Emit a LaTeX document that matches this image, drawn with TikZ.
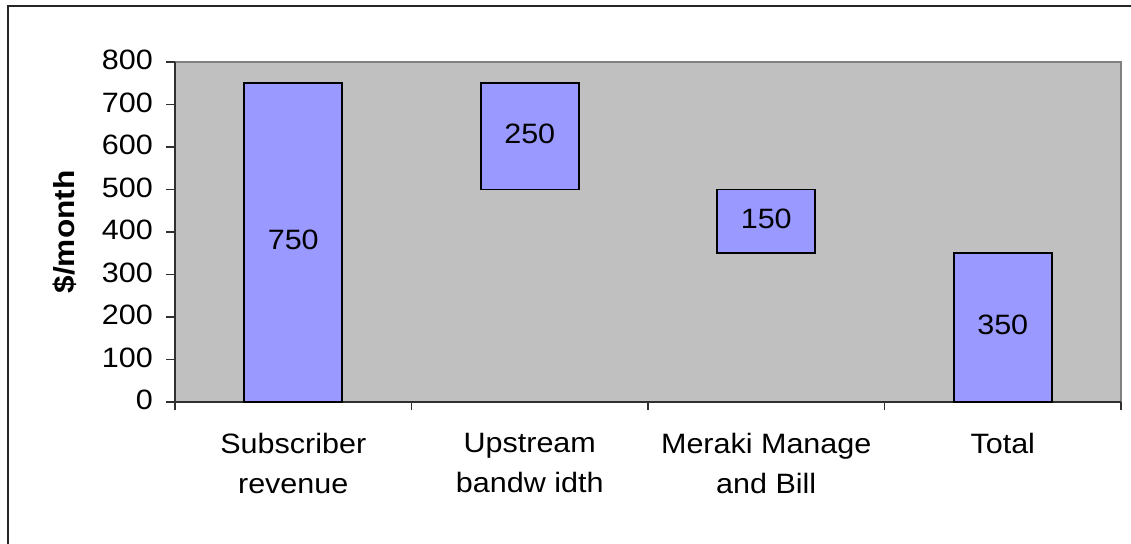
\documentclass[tikz,border=0pt]{standalone}
\usepackage{fontspec}
\setmainfont[FakeStretch=1.09]{Liberation Sans}
\definecolor{plotgray}{HTML}{C0C0C0}
\definecolor{bordergray}{HTML}{808080}
\definecolor{barblue}{HTML}{9999FF}
\definecolor{axisgray}{HTML}{303030}
\tikzset{
  bar/.style={draw=black, fill=barblue, line width=1.6pt},
  ticklabel/.style={font=\fontsize{28}{34}\selectfont, inner sep=0pt, anchor=east},
  catlabel/.style={font=\fontsize{28}{40.5}\selectfont, inner sep=0pt, anchor=north, align=center},
  vallabel/.style={font=\fontsize{28}{34}\selectfont, inner sep=0pt},
  axisline/.style={draw=axisgray, line width=1.1pt},
}
\begin{document}
\begin{tikzpicture}[x=1pt,y=1pt]
\fill[white] (0,0) rectangle (1131,543);
\useasboundingbox (0,0) rectangle (1131,543);
% outer frame (cut at right and bottom)
\draw[line width=1.5pt, black!85] (8,-3) -- (8,537) -- (1134,537);
% plot area
\fill[plotgray] (175,141) rectangle (1121,481);
\draw[bordergray, line width=2.2pt] (175,481) -- (1121,481) -- (1121,141);
\draw[axisline] (175,481) -- (175,141) -- (1121,141);
% y ticks and labels
\foreach \v/\y in {0/141,100/183.5,200/226,300/268.5,400/311,500/353.5,600/396,700/438.5,800/481}{
  \draw[axisline] (166,\y) -- (175,\y);
  \node[ticklabel] (t\v) at (153,\y+2) {\v};
}
% x ticks
\foreach \x in {175,411.5,648,884.5,1121}{
  \draw[axisline] (\x,141) -- (\x,133);
}
% bars
\draw[bar] (244.25,141) rectangle (342.25,459.75);
\draw[bar] (480.75,353.5) rectangle (578.75,459.75);
\draw[bar] (717.25,289.75) rectangle (815.25,353.5);
\draw[bar] (953.75,141) rectangle (1051.75,289.75);
% value labels
\node[vallabel] (v1) at (293.25,303.4) {750};
\node[vallabel] (v2) at (529.75,409.6) {250};
\node[vallabel] (v3) at (766.25,324.6) {150};
\node[vallabel] (v4) at (1002.75,218.4) {350};
% category labels
\node[catlabel] (c1) at (293.25,110) {Subscriber\\revenue};
\node[catlabel] (c2) at (529.75,110) {Upstream\\bandw idth};
\node[catlabel] (c3) at (766.25,110) {Meraki Manage\\and Bill};
\node[catlabel] (c4) at (1002.75,110) {Total};
% axis title
\node[font=\fontsize{29}{34}\selectfont\bfseries, rotate=90, inner sep=0pt] (ytitle) at (65,311) {\$/month};
\end{tikzpicture}
\end{document}
